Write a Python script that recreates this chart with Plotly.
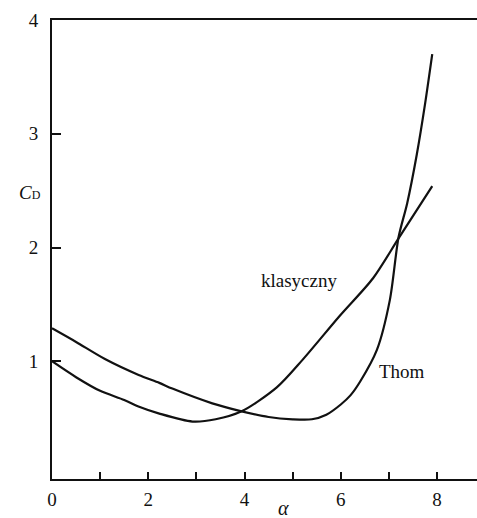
import plotly.graph_objects as go

# Curve "klasyczny"
klas_x = [0, 0.5, 1.0, 1.5, 1.81, 2.23, 2.92, 3.4, 3.94, 4.67, 5.2, 5.98, 6.67, 7.2, 7.9]
klas_y = [1.0, 0.86, 0.74, 0.66, 0.60, 0.54, 0.47, 0.49, 0.56, 0.77, 1.01, 1.40, 1.73, 2.08, 2.54]

# Curve "Thom"
thom_x = [0, 0.5, 1.1, 1.8, 2.23, 2.5, 3.33, 3.94, 4.5, 5.0, 5.4, 5.7, 6.0, 6.2, 6.4, 6.75, 7.02, 7.2, 7.38, 7.58, 7.75, 7.9]
thom_y = [1.29, 1.17, 1.02, 0.88, 0.81, 0.76, 0.63, 0.56, 0.51, 0.49, 0.49, 0.53, 0.62, 0.70, 0.82, 1.10, 1.54, 2.09, 2.39, 2.82, 3.26, 3.70]

x_tickvals = [0, 1, 2, 3, 4, 5, 6, 7, 8]
x_ticktext = ["0", "", "2", "", "4", "", "6", "", "8"]
y_tickvals = [1, 2, 3, 4]
y_ticktext = ["1", "2", "3", "4"]

FONT = "Liberation Serif, Times New Roman, DejaVu Serif, serif"
INK = "#111111"

fig = go.Figure()
for xs, ys in [(klas_x, klas_y), (thom_x, thom_y)]:
    fig.add_trace(go.Scatter(x=xs, y=ys, mode="lines",
                             line=dict(color=INK, width=2.2, shape="spline", smoothing=0.8),
                             showlegend=False, hoverinfo="skip"))

fig.add_annotation(x=5.13, y=1.71, text="klasyczny", showarrow=False,
                   font=dict(family=FONT, size=19, color=INK))
fig.add_annotation(x=7.28, y=0.91, text="Thom", showarrow=False,
                   font=dict(family=FONT, size=19, color=INK))
fig.add_annotation(xref="paper", yref="paper", x=-0.052, y=(518 - 39 - 193) / 459,
                   text="<i>C</i><span style='font-size:12px'>D</span>", showarrow=False,
                   xanchor="center", yanchor="middle",
                   font=dict(family=FONT, size=19, color=INK))
fig.add_annotation(xref="paper", yref="paper", x=(283 - 52) / 425, y=-(508 - 479) / 459,
                   text="<i>α</i>", showarrow=False, xanchor="center", yanchor="middle",
                   font=dict(family=FONT, size=20, color=INK))

fig.update_layout(
    width=477, height=518,
    margin=dict(l=52, r=0, t=20, b=39),
    paper_bgcolor="white", plot_bgcolor="white",
    font=dict(family=FONT, size=19, color=INK),
    xaxis=dict(range=[0, 8.83], tickvals=x_tickvals, ticktext=x_ticktext,
               ticks="inside", ticklen=7, tickwidth=2, tickcolor=INK,
               tickfont=dict(family=FONT, size=19, color=INK),
               showline=True, linecolor=INK, linewidth=2, mirror=True,
               showgrid=False, zeroline=False, ticklabelstandoff=2),
    yaxis=dict(range=[-0.035, 4.0], tickvals=y_tickvals, ticktext=y_ticktext,
               ticks="inside", ticklen=9, tickwidth=2, tickcolor=INK,
               tickfont=dict(family=FONT, size=19, color=INK),
               showline=True, linecolor=INK, linewidth=2, mirror=False,
               showgrid=False, zeroline=False, ticklabelstandoff=8),
)

fig.write_html("out.html", config={"displayModeBar": False},
               post_script="document.body.style.margin='0';document.body.style.overflow='hidden';")
